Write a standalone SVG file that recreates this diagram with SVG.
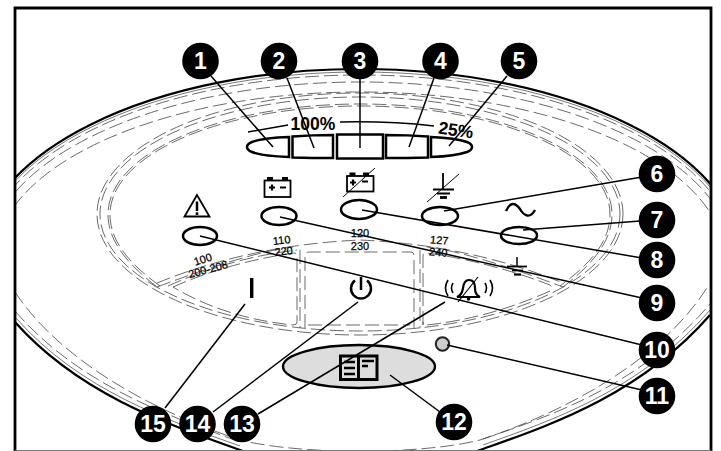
<svg xmlns="http://www.w3.org/2000/svg" width="721" height="451" viewBox="0 0 721 451">
<style>
.t{font-family:"Liberation Sans",Arial,sans-serif;fill:#000}
.n{font-size:23px;font-weight:700;fill:#fff;text-anchor:middle;font-family:"Liberation Sans",Arial,sans-serif}
.v{font-size:11px;text-anchor:middle;stroke:#000;stroke-width:.25}
.p{font-size:17.500px;font-weight:700;text-anchor:middle}
.d{fill:none;stroke:#444;stroke-width:.8;stroke-dasharray:14 5}
.g{fill:none;stroke:#555;stroke-width:.8}
.k{fill:none;stroke:#000;stroke-width:2.500}
.s{fill:none;stroke:#000;stroke-width:1.800}
.l{stroke:#000;stroke-width:1.500;fill:none}
.b{fill:#000}
</style>
<defs><clipPath id="c"><rect x="15" y="9" width="695" height="442"/></clipPath></defs>
<rect width="721" height="451" fill="#fff"/>
<g id="housing" clip-path="url(#c)">
<path d="M-22,260A382,191 0 0 1 742,260" fill="none" stroke="#000" stroke-width="2.200"/>
<path d="M15,322C80,395 170,425 240,450C300,472 420,472 483,449C550,425 640,395 710,315" fill="none" stroke="#000" stroke-width="2.200"/>
<path class="g" d="M-20,260A380,188 0 0 1 740,260"/>
<path class="g" d="M15,317C80,391 170,421 240,446"/><path class="g" d="M483,445C550,421 640,391 710,310"/>
<path class="d" d="M-17,260A377,185 0 0 1 737,260"/>
<path class="d" d="M-13,260A373,178 0 0 1 733,260"/>
<path class="d" d="M-5,260A365,168 0 0 1 725,260"/>
<path class="d" d="M15,311C80,386 170,416 240,442"/><path class="d" d="M483,439C550,416 640,386 710,304"/>
<path class="d" d="M15,292C60,360 150,410 240,440C300,455 420,455 480,440C570,410 660,360 707,288"/>
<ellipse class="d" cx="360" cy="214" rx="263" ry="121"/>
<ellipse class="d" cx="360" cy="214" rx="260" ry="117"/>
<path class="d" d="M157,287C125,262 108,240 108,214A252,110 0 0 1 612,214C612,240 595,262 563,287"/>
<path class="d" d="M160,286C127,262 110,240 110,214A250,108 0 0 1 610,214C610,240 593,262 560,286"/>
<path class="d" d="M157,283Q250,245 360,240Q470,245 563,283"/>
<path class="d" d="M157,287Q250,252 293,247"/><path class="d" d="M427,247Q470,252 563,287"/>
<path class="d" d="M173,287Q230,262 294,253Q297,253 297,256L297,322Q297,325 293,325Q225,318 173,287Z"/>
<path class="d" d="M168,286Q230,258 297,250"/>
<path class="d" d="M300,250V328"/>
<path class="d" d="M305,328V256Q305,252 309,252H411Q414,252 414,256V328"/>
<path class="d" d="M423,325V256Q423,252 427,253Q490,262 550,285Q553,288 550,291Q490,318 427,325Q423,325 423,322Z"/>
<path class="d" d="M420,250V328"/>
<path class="d" d="M308,325H410"/>
</g>
<g id="frame">
<path d="M15,451V8H711V451" fill="none" stroke="#000" stroke-width="2.800"/>
<path d="M15,450.500H711" fill="none" stroke="#777" stroke-width="1"/>
</g>
<g id="bar-labels">
<path class="l" d="M248,132L288,125"/>
<path class="l" d="M340,122Q390,121 434,126"/>
<text class="t p" x="313" y="130">100%</text>
<text class="t p" transform="translate(455,136) rotate(8)" x="0" y="0">25%</text>
</g>
<g id="bar">
<path class="k" d="M289,137V157Q262,156 252,152Q247,150 247,147Q247,144 252,142Q262,138 289,137Z"/>
<path class="k" d="M292.500,136.500Q312,135 333,135V158Q312,158 292.500,157.500Z"/>
<rect class="k" x="337" y="134.500" width="46" height="24"/>
<path class="k" d="M386,135Q408,135 428,136.500V157.500Q408,158 386,158Z"/>
<path class="k" d="M431,137Q456,138 467,142Q472,144 472,147Q472,150 467,152Q456,156 431,157Z"/>
</g>
<g id="ind-alarm">
<path d="M197,195L184.500,216.500H209.500Z" fill="none" stroke="#000" stroke-width="1.800"/>
<path d="M197,201.500V211" stroke="#000" stroke-width="2.500"/><rect class="b" x="195.700" y="212.300" width="2.600" height="2.600"/>
<ellipse class="k" cx="200" cy="236" rx="17" ry="9"/>
<text class="t v" transform="translate(204,263) rotate(-18)">100</text>
<text class="t v" transform="translate(209,273) rotate(-15)">200-208</text>
</g>
<g id="ind-battery">
<rect class="s" x="264.500" y="180.500" width="26" height="16.500"/>
<rect class="b" x="267" y="177" width="6" height="3.500"/><rect class="b" x="282" y="177" width="6" height="3.500"/>
<path d="M269,187.500H275M272,184.500V190.500M280,187.500H286" stroke="#000" stroke-width="2.200"/>
<ellipse class="k" cx="279" cy="216" rx="17.500" ry="9"/>
<text class="t v" transform="translate(282,244) rotate(-6)">110</text>
<text class="t v" transform="translate(284,255) rotate(-6)">220</text>
</g>
<g id="ind-battery-off">
<rect class="s" x="347" y="176" width="26.500" height="15.500"/>
<rect class="b" x="349.500" y="172.500" width="6" height="3.500"/><rect class="b" x="363" y="172.500" width="6" height="3.500"/>
<path d="M350,182.500H356M353,179.500V185.500M362,181.500H368" stroke="#000" stroke-width="2.200"/>
<path d="M343,197L375,168" stroke="#000" stroke-width="1"/>
<ellipse class="k" cx="359" cy="209.500" rx="18" ry="9.500"/>
<text class="t v" x="360" y="237">120</text>
<text class="t v" x="360" y="249.500">230</text>
</g>
<g id="ind-ground-off">
<path d="M443,173V189" stroke="#000" stroke-width="1.800"/>
<path d="M433,189.500H454M437,193.500H450" stroke="#000" stroke-width="2.200"/><path d="M440,197.500H447" stroke="#000" stroke-width="2.800"/>
<path d="M427,202L459,174" stroke="#000" stroke-width="1"/>
<ellipse class="k" cx="440" cy="216" rx="18" ry="9"/>
<text class="t v" transform="translate(439,244) rotate(5)">127</text>
<text class="t v" transform="translate(438,256) rotate(5)">240</text>
</g>
<g id="ind-ac">
<path d="M506,211C510,202 515,202 520,209C524,216 530,219 535,210" fill="none" stroke="#000" stroke-width="2.400"/>
<ellipse class="k" cx="519" cy="235.500" rx="18" ry="8.500"/>
</g>
<g id="ground">
<path d="M517,257V266" stroke="#000" stroke-width="1.500"/>
<path d="M507,266.500H527" stroke="#000" stroke-width="1.800"/><path d="M512,270.500H523" stroke="#000" stroke-width="1.800"/><path d="M514,274.500H521" stroke="#000" stroke-width="2.200"/>
</g>
<g id="btn-on"><rect class="b" x="250" y="278" width="3.400" height="20"/></g>
<g id="btn-standby">
<path d="M355,280.500A10,10 0 1 0 367,280.500" class="k"/><path d="M361,277V290" stroke="#000" stroke-width="2.500"/>
</g>
<g id="btn-silence">
<path d="M457,297Q462,295 463,288Q464,280 469,280Q475,280 475,288Q475,295 480,297Z" fill="none" stroke="#000" stroke-width="2.200"/>
<circle class="b" cx="468.500" cy="299" r="1.800"/>
<path d="M458,302L478,277" stroke="#000" stroke-width="1.200"/>
<path d="M448,280Q443,288 448,296M453,283Q450,288 453,293M485,283Q488,288 485,293M490,280Q495,288 490,296" fill="none" stroke="#000" stroke-width="1.600"/>
</g>
<g id="led"><circle cx="442.500" cy="344" r="6.700" fill="#ccc" stroke="#222" stroke-width="2"/></g>
<g id="btn-panel">
<ellipse cx="359" cy="366.500" rx="76" ry="21.500" fill="#ddd" stroke="#000" stroke-width="2.400"/>
<rect x="340.500" y="356" width="36.500" height="23.500" fill="none" stroke="#000" stroke-width="3"/>
<path d="M358.500,355V380" stroke="#000" stroke-width="3"/>
<path d="M344,362H355M344,368H355M344,374H355M362,361H374M362,366H368" stroke="#000" stroke-width="2.600"/>
</g>
<g id="connectors">
<path class="l" d="M211,76L273,147"/>
<path class="l" d="M287,78L314,148"/>
<path class="l" d="M360,79V148"/>
<path class="l" d="M434,78L409,147"/>
<path class="l" d="M507,76L449,146"/>
<path class="l" d="M642,177L444,211"/>
<path class="l" d="M640,221L523,230"/>
<path class="l" d="M642,258L362,210"/>
<path class="l" d="M642,298L280,217"/>
<path class="l" d="M642,345L200,236"/>
<path class="l" d="M642,390L447,345"/>
<path class="l" d="M440,412L390,375"/>
<path class="l" d="M258,414L445,302"/>
<path class="l" d="M213,412L358,302"/>
<path class="l" d="M165,408L245,304"/>
</g>
<g id="badge-1"><circle class="b" cx="200.500" cy="61" r="18.300"/><text class="n" x="200.500" y="69">1</text></g>
<g id="badge-2"><circle class="b" cx="279" cy="61" r="18.300"/><text class="n" x="279" y="69">2</text></g>
<g id="badge-3"><circle class="b" cx="360" cy="61" r="18.300"/><text class="n" x="360" y="69">3</text></g>
<g id="badge-4"><circle class="b" cx="440.500" cy="61" r="18.300"/><text class="n" x="440.500" y="69">4</text></g>
<g id="badge-5"><circle class="b" cx="519" cy="61" r="18.300"/><text class="n" x="519" y="69">5</text></g>
<g id="badge-6"><circle class="b" cx="657" cy="174" r="18.300"/><text class="n" x="657" y="182">6</text></g>
<g id="badge-7"><circle class="b" cx="657" cy="220" r="18.300"/><text class="n" x="657" y="228">7</text></g>
<g id="badge-8"><circle class="b" cx="657" cy="260" r="18.300"/><text class="n" x="657" y="268">8</text></g>
<g id="badge-9"><circle class="b" cx="657" cy="303" r="18.300"/><text class="n" x="657" y="311">9</text></g>
<g id="badge-10"><circle class="b" cx="657" cy="350" r="18.300"/><text class="n" x="657" y="358">10</text></g>
<g id="badge-11"><circle class="b" cx="657" cy="396" r="18.300"/><text class="n" x="657" y="404">11</text></g>
<g id="badge-12"><circle class="b" cx="454" cy="422" r="18.300"/><text class="n" x="454" y="430">12</text></g>
<g id="badge-13"><circle class="b" cx="242" cy="424" r="18.300"/><text class="n" x="242" y="432">13</text></g>
<g id="badge-14"><circle class="b" cx="197.500" cy="424" r="18.300"/><text class="n" x="197.500" y="432">14</text></g>
<g id="badge-15"><circle class="b" cx="153" cy="424" r="18.300"/><text class="n" x="153" y="432">15</text></g>
</svg>
